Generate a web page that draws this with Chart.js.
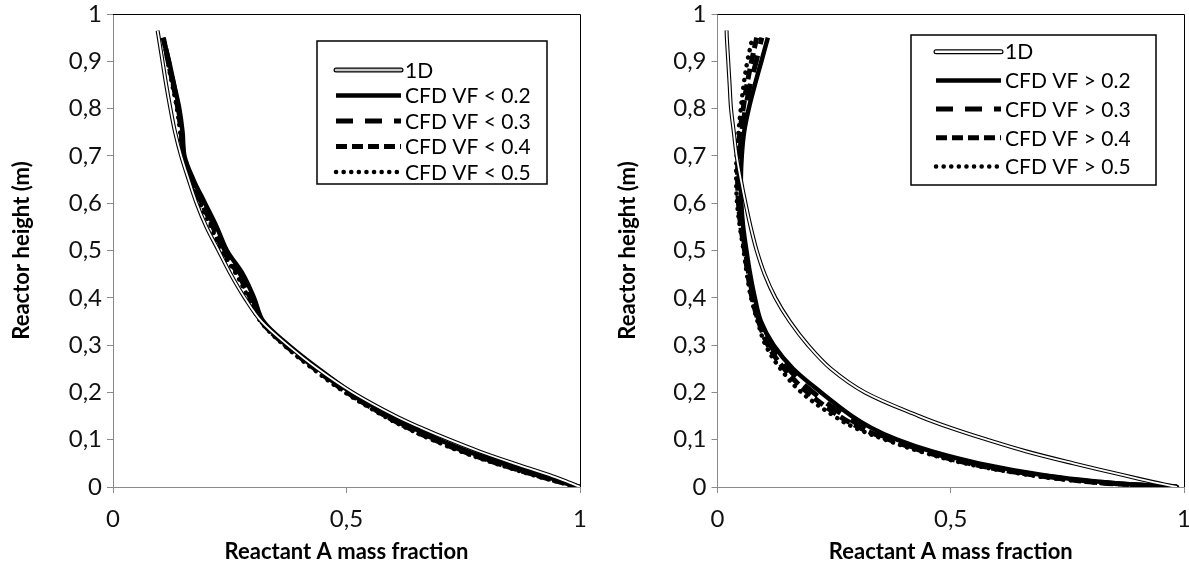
<!DOCTYPE html>
<html>
<head>
<meta charset="utf-8">
<script src="https://cdn.jsdelivr.net/npm/chart.js@4/dist/chart.umd.min.js"></script>
<style>
  html, body { margin: 0; padding: 0; background: #fff; }
  #wrap { position: relative; width: 1189px; height: 571px; }
  canvas { position: absolute; top: 0; }
  #leftChart { left: 0; }
  #rightChart { left: 595px; }
</style>
</head>
<body>
<div id="wrap">
  <canvas id="leftChart" width="595" height="571"></canvas>
  <canvas id="rightChart" width="594" height="571"></canvas>
</div>
<script>
// reactor heights (m) at which mass fractions were read
var heights = [0, 0.005, 0.01, 0.025, 0.05, 0.075, 0.1, 0.125, 0.15, 0.2, 0.25, 0.3, 0.35,
  0.4, 0.45, 0.5, 0.55, 0.6, 0.65, 0.7, 0.75, 0.8, 0.85, 0.9, 0.95];
var heights1D = [0, 0.005, 0.01, 0.025, 0.05, 0.075, 0.1, 0.125, 0.15, 0.2, 0.25, 0.3, 0.35,
  0.4, 0.45, 0.5, 0.55, 0.6, 0.65, 0.7, 0.75, 0.8, 0.85, 0.9, 0.95, 0.965];

// left panel: reactant A mass fraction
var left1D = [1.0, 0.988, 0.975, 0.935, 0.858, 0.785, 0.72, 0.66, 0.605, 0.513, 0.438, 0.374, 0.318,
  0.282, 0.252, 0.226, 0.2, 0.179, 0.162, 0.146, 0.133, 0.123, 0.114, 0.106, 0.098, 0.0955];
var leftVF02 = [1.0, 0.983, 0.967, 0.915, 0.834, 0.761, 0.698, 0.642, 0.594, 0.51, 0.44, 0.376, 0.322,
  0.302, 0.278, 0.244, 0.222, 0.197, 0.172, 0.153, 0.149, 0.142, 0.131, 0.12, 0.107];
var leftVF03 = [0.998, 0.98, 0.963, 0.91, 0.828, 0.755, 0.693, 0.637, 0.589, 0.505, 0.436, 0.372, 0.32,
  0.298, 0.273, 0.24, 0.218, 0.193, 0.169, 0.152, 0.147, 0.14, 0.13, 0.119, 0.108];
var leftVF04 = [0.997, 0.977, 0.959, 0.905, 0.823, 0.75, 0.687, 0.632, 0.584, 0.501, 0.432, 0.369, 0.318,
  0.294, 0.268, 0.236, 0.214, 0.19, 0.167, 0.151, 0.146, 0.139, 0.129, 0.118, 0.108];
var leftVF05 = [0.995, 0.975, 0.955, 0.9, 0.818, 0.745, 0.683, 0.628, 0.58, 0.497, 0.428, 0.366, 0.316,
  0.29, 0.264, 0.232, 0.21, 0.186, 0.164, 0.15, 0.144, 0.137, 0.127, 0.117, 0.108];

// right panel
var right1D = [0.985, 0.96, 0.936, 0.87, 0.763, 0.663, 0.578, 0.5, 0.432, 0.316, 0.243, 0.194, 0.155,
  0.124, 0.101, 0.084, 0.071, 0.06, 0.05, 0.041, 0.035, 0.029, 0.026, 0.023, 0.02, 0.0195];
var rightVF02 = [0.985, 0.9, 0.83, 0.7, 0.56, 0.46, 0.385, 0.33, 0.288, 0.222, 0.162, 0.12, 0.093,
  0.08, 0.07, 0.062, 0.055, 0.051, 0.05, 0.052, 0.057, 0.067, 0.08, 0.094, 0.108];
var rightVF03 = [0.985, 0.892, 0.818, 0.688, 0.548, 0.45, 0.375, 0.316, 0.273, 0.205, 0.152, 0.113, 0.09,
  0.077, 0.067, 0.06, 0.052, 0.047, 0.046, 0.048, 0.052, 0.06, 0.07, 0.083, 0.095];
var rightVF04 = [0.985, 0.886, 0.809, 0.679, 0.539, 0.443, 0.368, 0.306, 0.261, 0.193, 0.143, 0.108, 0.088,
  0.074, 0.065, 0.058, 0.05, 0.045, 0.043, 0.044, 0.048, 0.055, 0.063, 0.073, 0.084];
var rightVF05 = [0.985, 0.88, 0.8, 0.67, 0.53, 0.435, 0.36, 0.295, 0.25, 0.18, 0.135, 0.103, 0.086,
  0.072, 0.063, 0.056, 0.048, 0.042, 0.04, 0.041, 0.045, 0.05, 0.056, 0.064, 0.075];

var leftLabels = ["1D", "CFD VF < 0.2", "CFD VF < 0.3", "CFD VF < 0.4", "CFD VF < 0.5"];
var rightLabels = ["1D", "CFD VF > 0.2", "CFD VF > 0.3", "CFD VF > 0.4", "CFD VF > 0.5"];

var xTitle = "Reactant A mass fraction";
var yTitle = "Reactor height (m)";

var FONT = "Lato, 'Open Sans', sans-serif";
var AXIS_GREY = "#8a8a8a";

function pts(xs, ys) {
  return xs.map(function (x, i) { return { x: x, y: ys[i] }; });
}

function commaLabel(v) {
  return String(Math.round(v * 10) / 10).replace(".", ",");
}

function makeDatasets(labels, d1, d2, d3, d4, d5) {
  var base = { showLine: true, pointRadius: 0, tension: 0.35, fill: false };
  return [
    Object.assign({}, base, { label: labels[0], data: pts(d1, heights1D), borderColor: "#fff", borderWidth: 1.8, order: 0, kind: "double" }),
    Object.assign({}, base, { label: "_1Dedge", data: pts(d1, heights1D), borderColor: "#000", borderWidth: 4, order: 1, hideInKey: true }),
    Object.assign({}, base, { label: labels[1], data: pts(d2, heights), borderColor: "#000", borderWidth: 4.5, order: 2 }),
    Object.assign({}, base, { label: labels[2], data: pts(d3, heights), borderColor: "#000", borderWidth: 5, borderDash: [17, 12], order: 3 }),
    Object.assign({}, base, { label: labels[3], data: pts(d4, heights), borderColor: "#000", borderWidth: 5, borderDash: [11, 5], order: 4 }),
    Object.assign({}, base, { label: labels[4], data: pts(d5, heights), borderColor: "#000", borderWidth: 4.5, borderDash: [0.1, 7.5], borderCapStyle: "round", order: 5 })
  ];
}

// frame on top/right and the boxed key
var framePlugin = {
  id: "frameAndKey",
  afterDraw: function (chart, args, opts) {
    var ctx = chart.ctx, a = chart.chartArea, k = opts.key;
    ctx.save();
    ctx.strokeStyle = "#000";
    ctx.lineWidth = 1;
    ctx.beginPath();
    ctx.moveTo(a.left, a.top + 0.5);
    ctx.lineTo(Math.round(a.right) + 0.5, a.top + 0.5);
    ctx.lineTo(Math.round(a.right) + 0.5, a.bottom);
    ctx.stroke();

    ctx.fillStyle = "#fff";
    ctx.fillRect(k.x, k.y, k.w, k.h);
    ctx.lineWidth = 1.5;
    ctx.strokeRect(k.x, k.y, k.w, k.h);

    var items = chart.data.datasets.filter(function (d) { return !d.hideInKey; });
    items.forEach(function (d, i) {
      var y = k.y + k.first + i * k.step;
      ctx.setLineDash([]);
      if (d.kind === "double") {
        ctx.lineCap = "round";
        ctx.strokeStyle = "#000";
        ctx.lineWidth = 5;
        ctx.beginPath(); ctx.moveTo(k.x0, y); ctx.lineTo(k.x1, y); ctx.stroke();
        ctx.strokeStyle = opts.innerKey;
        ctx.lineWidth = 2.6;
        ctx.beginPath(); ctx.moveTo(k.x0, y); ctx.lineTo(k.x1, y); ctx.stroke();
      } else {
        ctx.strokeStyle = "#000";
        ctx.lineWidth = d.borderWidth;
        ctx.lineCap = d.borderCapStyle || "butt";
        ctx.setLineDash(d.borderDash || []);
        ctx.beginPath(); ctx.moveTo(k.x0, y); ctx.lineTo(k.x1, y); ctx.stroke();
      }
      ctx.setLineDash([]);
      ctx.fillStyle = "#000";
      ctx.font = "21px " + FONT;
      ctx.textBaseline = "middle";
      ctx.textAlign = "left";
      ctx.fillText(d.label, k.tx, y + 1);
    });
    ctx.restore();
  }
};

function axisScale(step, titleText, titlePad, tickPad) {
  return {
    type: "linear",
    min: 0,
    max: 1,
    grid: { display: true, drawOnChartArea: false, drawTicks: true, tickLength: 6, color: AXIS_GREY },
    border: { display: true, color: AXIS_GREY, width: 1 },
    ticks: {
      stepSize: step,
      color: "#111",
      font: { family: FONT, size: 24 },
      padding: tickPad,
      callback: function (v) { return commaLabel(v); }
    },
    title: {
      display: true,
      text: titleText,
      color: "#000",
      font: { family: FONT, size: 22, weight: "bold" },
      padding: titlePad
    }
  };
}

function noOverhang(s) {
  s.paddingTop = 0;
  s.paddingBottom = 0;
  s.paddingLeft = 0;
  s.paddingRight = 0;
}

function buildChart(id, datasets, yWidth, rightPad, yTitlePad, key, innerKey) {
  var xs = axisScale(0.5, xTitle, { top: 0, bottom: 6 }, 12);
  xs.afterFit = function (s) { s.height = 84; noOverhang(s); };
  var ys = axisScale(0.1, yTitle, { top: yTitlePad, bottom: 0 }, 5);
  ys.afterFit = function (s) { s.width = yWidth; noOverhang(s); };
  return new Chart(document.getElementById(id), {
    type: "scatter",
    data: { datasets: datasets },
    options: {
      responsive: false,
      animation: false,
      devicePixelRatio: 1,
      layout: { padding: { left: 0, right: rightPad, top: 14, bottom: 0 } },
      scales: { x: xs, y: ys },
      plugins: {
        legend: { display: false },
        tooltip: { enabled: false },
        frameAndKey: { key: key, innerKey: innerKey }
      }
    },
    plugins: [framePlugin]
  });
}

buildChart("leftChart",
  makeDatasets(leftLabels, left1D, leftVF02, leftVF03, leftVF04, leftVF05),
  113, 15, 9,
  { x: 317, y: 41, w: 230, h: 143, first: 29, step: 25.5, x0: 336, x1: 401, tx: 405 },
  "#c8c8c8");

buildChart("rightChart",
  makeDatasets(rightLabels, right1D, rightVF02, rightVF03, rightVF04, rightVF05),
  122.5, 5, 20,
  { x: 316, y: 35, w: 245, h: 150, first: 16.7, step: 28.7, x0: 341, x1: 406, tx: 410 },
  "#fff");
</script>
</body>
</html>
